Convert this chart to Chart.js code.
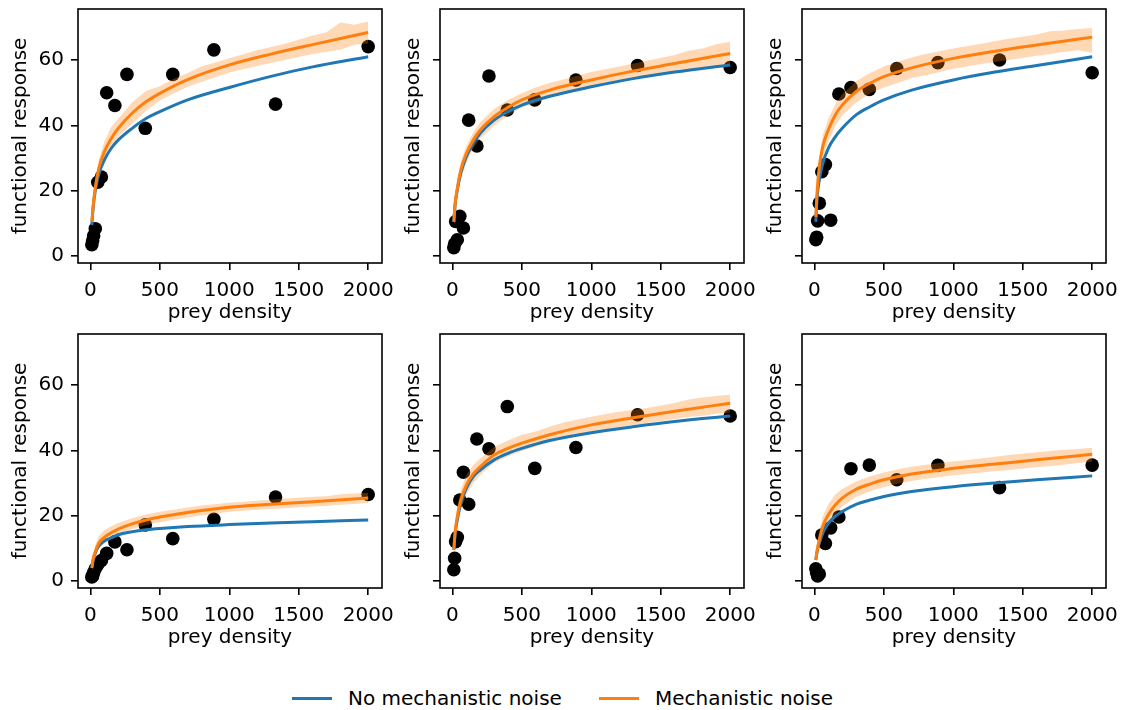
<!DOCTYPE html>
<html>
<head>
<meta charset="utf-8">
<script src="https://cdn.jsdelivr.net/npm/chart.js@4.4.1/dist/chart.umd.min.js"></script>
<style>
  html, body { margin: 0; padding: 0; background: #fff; overflow: hidden; }
  body { width: 1126px; height: 710px; position: relative; font-family: "DejaVu Sans", sans-serif; }
  canvas { position: absolute; }
  .item { position: absolute; top: 684px; height: 28px; display: flex; align-items: center;
          white-space: nowrap; font-size: 20px; color: #000; }
  .swatch { width: 40px; height: 3px; margin-right: 16px; }
</style>
</head>
<body>
<div class="item" style="left:292px"><span class="swatch" style="background:#1f77b4"></span>No mechanistic noise</div>
<div class="item" style="left:599px"><span class="swatch" style="background:#ff7f0e"></span>Mechanistic noise</div>
<script>
// Prey densities used in the feeding trials
const preyDensity = [10, 16, 23, 35, 53, 79, 117, 176, 263, 395, 593, 889, 1333, 2000];

// Observed prey eaten, one array per replicate
const observed1 = [3.5, 4.7, 6.2, 8.4, 22.6, 24.2, 50.0, 46.1, 55.6, 39.1, 55.6, 63.1, 46.5, 64.1];
const observed2 = [2.6, 3.8, 10.6, 5.0, 12.2, 8.6, 41.6, 33.7, 55.1, 44.7, 47.8, 53.9, 58.3, 57.7];
const observed3 = [5.0, 5.8, 10.8, 16.2, 25.8, 28.0, 11.0, 49.6, 51.6, 51.0, 57.4, 59.2, 60.0, 56.1];
const observed4 = [1.3, 1.6, 2.6, 3.8, 5.0, 6.3, 8.5, 12.0, 9.6, 17.2, 13.0, 18.9, 25.7, 26.5];
const observed5 = [3.5, 7.0, 12.1, 13.4, 24.8, 33.3, 23.5, 43.5, 40.5, 53.4, 34.5, 40.9, 50.9, 50.5];
const observed6 = [3.8, 2.6, 1.6, 2.2, 14.1, 11.5, 16.3, 19.6, 34.4, 35.5, 31.0, 35.4, 28.6, 35.5];

// Fitted functional response curves
const curveDensity = [10, 20, 35, 60, 100, 150, 200, 300, 400, 500, 700, 1000, 1300, 1600, 2000];
const plainFit1 = [9.5, 15.0, 20.0, 25.0, 29.4, 33.0, 35.5, 39.1, 42.1, 44.2, 47.8, 51.6, 55.0, 57.9, 61.0];
const noisyFit1 = [10.5, 15.5, 21.0, 26.8, 31.9, 36.0, 39.1, 43.7, 47.2, 49.8, 54.0, 58.5, 61.8, 64.7, 68.4];
const plainFit2 = [10.5, 16.0, 20.2, 25.3, 30.4, 34.5, 37.6, 41.6, 44.2, 46.2, 48.9, 51.8, 54.3, 56.3, 58.5];
const noisyFit2 = [10.5, 16.3, 20.7, 26.3, 31.4, 35.5, 38.6, 42.7, 45.5, 47.8, 50.8, 53.9, 56.6, 58.9, 62.0];
const plainFit3 = [10.5, 18.2, 23.3, 28.4, 33.0, 36.5, 39.1, 43.2, 45.7, 47.8, 50.8, 53.9, 56.3, 58.3, 61.0];
const noisyFit3 = [12.0, 20.2, 27.3, 33.5, 38.6, 43.2, 46.2, 50.3, 52.9, 54.9, 57.6, 60.5, 62.7, 64.6, 67.0];
const plainFit4 = [4.0, 6.5, 8.6, 10.8, 12.3, 13.2, 14.2, 15.1, 15.7, 16.1, 16.7, 17.3, 17.8, 18.2, 18.7];
const noisyFit4 = [4.0, 6.8, 9.0, 11.6, 13.4, 14.8, 15.9, 17.5, 18.7, 19.6, 21.0, 22.6, 23.5, 24.3, 25.4];
const plainFit5 = [9.6, 14.7, 18.7, 23.8, 28.4, 32.0, 34.0, 37.1, 39.1, 40.6, 43.0, 45.4, 47.2, 48.8, 50.5];
const noisyFit5 = [9.6, 15.2, 19.8, 24.8, 29.4, 32.8, 35.0, 38.6, 40.6, 42.2, 44.8, 47.8, 50.0, 52.0, 54.4];
const plainFit6 = [6.5, 9.1, 11.6, 14.7, 17.7, 19.8, 21.3, 23.5, 24.8, 25.9, 27.4, 28.9, 30.0, 31.0, 32.2];
const noisyFit6 = [6.5, 9.6, 12.6, 16.7, 20.3, 23.3, 25.4, 28.1, 29.7, 31.0, 32.8, 34.5, 35.8, 37.1, 38.8];

// Predictive interval of the mechanistic-noise model
const bandDensity = [10, 30, 60, 100, 150, 200, 300, 400, 500, 600, 700, 800, 1000, 1200, 1400, 1600, 1700, 1800, 1900, 2000];
const bandLower1 = [9.0, 17.5, 24.5, 29.0, 33.0, 36.5, 40.5, 44.5, 47.6, 49.8, 51.8, 53.3, 56.2, 58.2, 60.0, 61.8, 62.5, 63.2, 64.6, 65.1];
const bandUpper1 = [12.0, 22.0, 29.5, 35.0, 39.5, 42.0, 47.0, 50.5, 52.0, 54.3, 56.0, 58.0, 60.5, 63.0, 65.0, 67.5, 68.5, 71.5, 70.8, 71.8];
const bandLower2 = [8.5, 16.5, 23.5, 28.5, 33.0, 36.0, 40.0, 43.0, 45.5, 46.8, 48.5, 49.6, 51.6, 53.4, 55.0, 56.2, 56.8, 57.5, 58.0, 58.5];
const bandUpper2 = [12.5, 22.0, 28.8, 33.8, 37.8, 41.0, 45.0, 47.8, 49.8, 51.6, 53.0, 54.0, 56.3, 58.0, 59.8, 61.5, 62.8, 63.5, 64.8, 65.6];
const bandLower3 = [9.5, 22.0, 30.0, 35.0, 39.8, 43.0, 47.0, 49.8, 51.6, 53.0, 54.5, 55.3, 57.3, 58.8, 60.0, 61.3, 61.8, 62.5, 63.0, 62.2];
const bandUpper3 = [14.5, 29.0, 37.0, 42.0, 46.5, 49.5, 53.5, 56.0, 58.0, 59.5, 60.8, 61.8, 63.5, 65.0, 66.5, 67.8, 68.8, 69.0, 69.5, 69.8];
const bandLower4 = [2.8, 6.5, 9.8, 11.5, 13.0, 14.2, 15.9, 17.2, 18.0, 18.8, 19.5, 20.1, 21.2, 21.8, 22.3, 22.8, 23.0, 23.4, 23.6, 23.9];
const bandUpper4 = [5.5, 10.5, 13.8, 15.6, 16.8, 17.8, 19.2, 20.4, 21.2, 21.8, 22.5, 23.1, 24.0, 24.6, 25.3, 25.8, 26.0, 26.6, 26.8, 27.0];
const bandLower5 = [7.8, 15.8, 21.8, 26.5, 30.0, 32.5, 36.2, 38.2, 39.8, 41.2, 42.5, 43.4, 45.6, 47.0, 48.4, 49.6, 50.2, 50.6, 51.2, 51.6];
const bandUpper5 = [11.5, 21.5, 28.0, 32.5, 35.5, 37.5, 41.0, 43.0, 44.8, 45.8, 47.2, 48.5, 50.3, 51.8, 53.0, 54.5, 55.6, 56.2, 56.6, 57.0];
const bandLower6 = [5.2, 9.5, 14.0, 17.6, 20.5, 22.8, 25.8, 27.5, 28.8, 29.8, 30.6, 31.3, 32.4, 33.2, 34.0, 34.8, 35.2, 35.6, 36.1, 36.5];
const bandUpper6 = [8.0, 14.5, 19.8, 23.5, 26.5, 28.2, 30.5, 32.0, 33.2, 34.2, 35.0, 35.6, 36.6, 37.5, 38.6, 39.4, 39.8, 40.2, 40.4, 40.8];

// Axis ticks
const xTicks = [0, 500, 1000, 1500, 2000];
const yTicks = [0, 20, 40, 60];

const FONT = '"DejaVu Sans", sans-serif';
const BLUE = '#1f77b4';
const ORANGE = '#ff7f0e';

const panels = [
  { obs: observed1, plain: plainFit1, noisy: noisyFit1, lo: bandLower1, hi: bandUpper1 },
  { obs: observed2, plain: plainFit2, noisy: noisyFit2, lo: bandLower2, hi: bandUpper2 },
  { obs: observed3, plain: plainFit3, noisy: noisyFit3, lo: bandLower3, hi: bandUpper3 },
  { obs: observed4, plain: plainFit4, noisy: noisyFit4, lo: bandLower4, hi: bandUpper4 },
  { obs: observed5, plain: plainFit5, noisy: noisyFit5, lo: bandLower5, hi: bandUpper5 },
  { obs: observed6, plain: plainFit6, noisy: noisyFit6, lo: bandLower6, hi: bandUpper6 }
];

// Grid geometry: plot-box corners for the 2 x 3 layout
const colLeft = [78, 440, 802];
const rowTop = [9, 334];
const BOX_W = 304, BOX_H = 254;
const Y_AXIS_W = 78, X_AXIS_H = 66, PAD_TOP = 8, PAD_RIGHT = 20;

const pairs = (xs, ys) => xs.map((x, i) => ({ x: x, y: ys[i] }));

// Closed axes frame around each plot box
const framePlugin = {
  id: 'frame',
  afterDatasetsDraw(chart) {
    const { ctx, chartArea: a } = chart;
    ctx.save();
    ctx.strokeStyle = '#000';
    ctx.lineWidth = 1.6;
    ctx.strokeRect(a.left, a.top, a.right - a.left, a.bottom - a.top);
    ctx.restore();
  }
};

panels.forEach((p, i) => {
  const col = i % 3, row = Math.floor(i / 3);
  const w = Y_AXIS_W + BOX_W + PAD_RIGHT;
  const h = PAD_TOP + BOX_H + X_AXIS_H;
  const canvas = document.createElement('canvas');
  canvas.width = w; canvas.height = h;
  canvas.style.width = w + 'px'; canvas.style.height = h + 'px';
  canvas.style.left = (colLeft[col] - Y_AXIS_W) + 'px';
  canvas.style.top = (rowTop[row] - PAD_TOP) + 'px';
  document.body.appendChild(canvas);
  const showYLabels = col === 0;

  new Chart(canvas, {
    type: 'scatter',
    data: {
      datasets: [
        { data: pairs(preyDensity, p.obs), pointRadius: 6.8, pointBackgroundColor: '#000',
          pointBorderColor: '#000', pointBorderWidth: 0, order: 5 },
        { data: pairs(bandDensity, p.lo), showLine: true, pointRadius: 0, tension: 0,
          borderColor: 'rgba(0,0,0,0)', borderWidth: 0, fill: false, order: 4 },
        { data: pairs(bandDensity, p.hi), showLine: true, pointRadius: 0, tension: 0,
          borderColor: 'rgba(0,0,0,0)', borderWidth: 0, fill: 1,
          backgroundColor: 'rgba(255,127,14,0.3)', order: 3 },
        { data: pairs(curveDensity, p.plain), showLine: true, pointRadius: 0,
          borderColor: BLUE, borderWidth: 3, cubicInterpolationMode: 'monotone', order: 2 },
        { data: pairs(curveDensity, p.noisy), showLine: true, pointRadius: 0,
          borderColor: ORANGE, borderWidth: 3, cubicInterpolationMode: 'monotone', order: 1 }
      ]
    },
    options: {
      responsive: false,
      animation: false,
      devicePixelRatio: 1,
      events: [],
      layout: { padding: { left: 0, top: PAD_TOP, right: PAD_RIGHT, bottom: 0 } },
      plugins: { legend: { display: false }, tooltip: { enabled: false } },
      scales: {
        x: {
          type: 'linear', min: -89.5, max: 2099.5,
          afterBuildTicks: s => { s.ticks = xTicks.map(v => ({ value: v })); },
          afterFit: s => { s.height = X_AXIS_H; s.paddingLeft = 0; s.paddingRight = 0; },
          border: { display: false },
          grid: { drawOnChartArea: false, drawTicks: true, tickLength: 7, color: '#000', lineWidth: 1.6 },
          ticks: { color: '#000', font: { family: FONT, size: 20 }, padding: 9,
                   maxRotation: 0, autoSkip: false, callback: v => String(v) },
          title: { display: true, text: 'prey density', color: '#000',
                   font: { family: FONT, size: 20 }, padding: { top: 0, bottom: 4 } }
        },
        y: {
          type: 'linear', min: -2.1, max: 75.6,
          afterBuildTicks: s => { s.ticks = yTicks.map(v => ({ value: v })); },
          afterFit: s => { s.width = Y_AXIS_W; s.paddingTop = 0; s.paddingBottom = 0; },
          border: { display: false },
          grid: { drawOnChartArea: false, drawTicks: true, tickLength: 7, color: '#000', lineWidth: 1.6 },
          ticks: { color: '#000', font: { family: FONT, size: 20 }, padding: 7,
                   callback: v => showYLabels ? String(v) : '' },
          title: { display: true, text: 'functional response', color: '#000',
                   font: { family: FONT, size: 20 },
                   padding: { top: showYLabels ? 9 : 40, bottom: 0 } }
        }
      }
    },
    plugins: [framePlugin]
  });
});
</script>
</body>
</html>
